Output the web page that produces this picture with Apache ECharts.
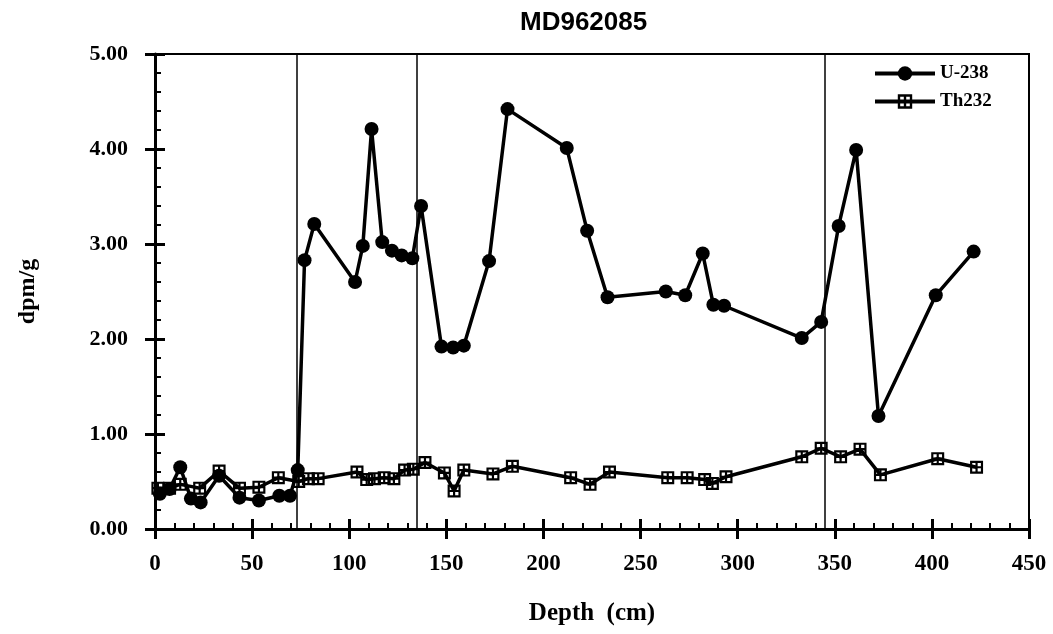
<!DOCTYPE html>
<html>
<head>
<meta charset="utf-8">
<script src="https://cdn.jsdelivr.net/npm/echarts@6/dist/echarts.min.js"></script>
<style>
html, body { margin: 0; padding: 0; background: #fff; }
#chart { width: 1053px; height: 634px; }
</style>
</head>
<body>
<div id="chart"></div>
<script>
// depth (cm) / activity (dpm/g)
const depthU = [2.5, 7.5, 13, 18.5, 23.5, 33, 43.5, 53.5, 64, 69.5, 73.5, 77, 82, 103, 107, 111.5, 117, 122, 127, 132.5,
    137, 147.5, 153.5, 159, 172, 181.5, 212, 222.5, 233, 263, 273, 282, 287.5, 293, 333, 343, 352, 361, 372.5, 402, 421.5]
const u238 = [0.37, 0.42, 0.65, 0.32, 0.28, 0.56, 0.33, 0.30, 0.35, 0.35, 0.62, 2.83, 3.21, 2.60, 2.98, 4.21, 3.02, 2.93, 2.88, 2.85,
    3.40, 1.92, 1.91, 1.93, 2.82, 4.42, 4.01, 3.14, 2.44, 2.50, 2.46, 2.90, 2.36, 2.35, 2.01, 2.18, 3.19, 3.99, 1.19, 2.46, 2.92]

const depthTh = [1.5, 7.5, 13, 23, 33, 43.5, 53.5, 63.5, 74, 79, 84, 104, 109, 113, 118, 123, 128.5, 133, 139, 149,
    154, 159, 174, 184, 214, 224, 234, 264, 274, 283, 287, 294, 333, 343, 353, 363, 373.5, 403, 423]
const th232 = [0.43, 0.43, 0.47, 0.43, 0.61, 0.43, 0.44, 0.54, 0.50, 0.53, 0.53, 0.60, 0.52, 0.53, 0.54, 0.53, 0.62, 0.63, 0.70, 0.59,
    0.40, 0.62, 0.58, 0.66, 0.54, 0.47, 0.60, 0.54, 0.54, 0.52, 0.48, 0.55, 0.76, 0.85, 0.76, 0.84, 0.57, 0.74, 0.65]

// thin vertical marker lines
const boundaries = [73, 135, 345]

const seriesNames = ['U-238', 'Th232']

// square with a cross, holes cut out
const crossSquare = 'path://M0,0H12V12H0Z M2,2V5H5V2Z M7,2V5H10V2Z M2,7V10H5V7Z M7,7V10H10V7Z'

const serif = '"Liberation Serif", "DejaVu Serif", serif'
const pair = (xs, ys) => xs.map((x, i) => [x, ys[i]])

const labelStyle = { color: '#000', fontFamily: serif, fontWeight: 'bold', fontSize: 22 }

let myChart = echarts.init(document.getElementById('chart'))

const options = {
    animation: false,
    backgroundColor: '#fff',
    title: {
        text: 'MD962085',
        left: 520,
        top: 10,
        padding: 0,
        textStyle: {
            fontFamily: '"Liberation Sans", Arial, sans-serif',
            fontWeight: 'bold',
            fontSize: 26,
            color: '#000'
        }
    },
    legend: {
        data: seriesNames,
        orient: 'vertical',
        left: 873,
        top: 64,
        padding: 0,
        itemWidth: 60,
        itemHeight: 18,
        itemGap: 9,
        lineStyle: { width: 4 },
        textStyle: { color: '#000', fontFamily: serif, fontWeight: 'bold', fontSize: 19 }
    },
    grid: {
        left: 155,
        right: 24,
        top: 54,
        bottom: 105,
        show: true,
        borderColor: '#000',
        borderWidth: 2
    },
    xAxis: [
        {
            type: 'value',
            position: 'bottom',
            min: 0,
            max: 450,
            interval: 50,
            name: 'Depth  (cm)',
            nameLocation: 'middle',
            nameGap: 72,
            nameTextStyle: { color: '#000', fontFamily: serif, fontWeight: 'bold', fontSize: 25 },
            axisLine: { lineStyle: { color: '#000', width: 3 } },
            axisTick: { inside: true, length: 10, lineStyle: { color: '#000', width: 3 } },
            minorTick: { show: true, splitNumber: 5, length: 6, lineStyle: { color: '#000', width: 2 } },
            axisLabel: { ...labelStyle, fontSize: 23, margin: 24 },
            splitLine: { show: false }
        },
        {
            // outer half of the major ticks
            type: 'value',
            position: 'bottom',
            offset: 0,
            min: 0,
            max: 450,
            interval: 50,
            axisLine: { show: false },
            axisTick: { inside: false, length: 10, lineStyle: { color: '#000', width: 3 } },
            axisLabel: { show: false },
            splitLine: { show: false }
        }
    ],
    yAxis: [
        {
            type: 'value',
            position: 'left',
            min: 0,
            max: 5,
            interval: 1,
            name: 'dpm/g',
            nameLocation: 'middle',
            nameGap: 115,
            nameTextStyle: { color: '#000', fontFamily: serif, fontWeight: 'bold', fontSize: 24 },
            axisLine: { lineStyle: { color: '#000', width: 3 } },
            axisTick: { inside: true, length: 10, lineStyle: { color: '#000', width: 3 } },
            minorTick: { show: true, splitNumber: 5, length: 6, lineStyle: { color: '#000', width: 2 } },
            axisLabel: { ...labelStyle, margin: 27, formatter: (v) => v.toFixed(2) },
            splitLine: { show: false }
        },
        {
            type: 'value',
            position: 'left',
            offset: 0,
            min: 0,
            max: 5,
            interval: 1,
            axisLine: { show: false },
            axisTick: { inside: false, length: 10, lineStyle: { color: '#000', width: 3 } },
            axisLabel: { show: false },
            splitLine: { show: false }
        }
    ],
    series: [
        {
            name: seriesNames[0],
            type: 'line',
            data: pair(depthU, u238),
            symbol: 'circle',
            symbolSize: 14,
            itemStyle: { color: '#000', borderWidth: 0 },
            lineStyle: { color: '#000', width: 3.5 },
            z: 3,
            markLine: {
                silent: true,
                symbol: 'none',
                label: { show: false },
                lineStyle: { color: '#000', width: 1.5, type: 'solid' },
                data: boundaries.map((b) => ({ xAxis: b }))
            }
        },
        {
            name: seriesNames[1],
            type: 'line',
            data: pair(depthTh, th232),
            symbol: crossSquare,
            symbolSize: 13,
            itemStyle: { color: '#000', borderWidth: 0 },
            lineStyle: { color: '#000', width: 3.5 },
            z: 4
        }
    ]
}

myChart.setOption(options)
</script>
</body>
</html>
